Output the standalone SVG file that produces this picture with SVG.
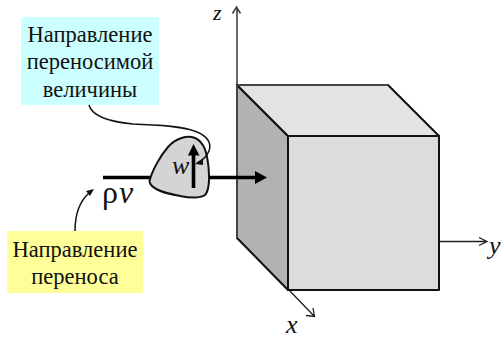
<svg xmlns="http://www.w3.org/2000/svg" width="501" height="339" viewBox="0 0 501 339">
<style>
text{font-family:"Liberation Serif","Times New Roman",serif;fill:#111}
.lbl{font-size:22.5px;text-anchor:middle}
.var{font-style:italic;font-size:26px}
.face{stroke:#111;stroke-width:2;stroke-linejoin:round}
.thin{fill:none;stroke:#222;stroke-width:1.3}
.thick{fill:none;stroke:#000;stroke-width:3.6}
.curve{fill:none;stroke:#111;stroke-width:1.5}
</style>
<rect width="501" height="339" fill="#fff"/>
<g id="connectors">
<path class="thin" d="M237 85V8M232.500 13.500L236.500 7L240.500 13.500" style="stroke:#444;stroke-width:1.6"/>
<path class="thin" d="M439 241.500H486M479 237.500L487 241.500L479 245.500"/>
<path class="thin" d="M288 289L314 316M306 315.500L314.500 316.500L313 308"/>
<path class="thick" d="M103 177.500H150"/>
</g>
<g id="cube">
<path class="face" fill="#b2b2b2" d="M237 85L288 136V290L237 238Z"/>
<path class="face" fill="#e3e3e3" d="M237 85H388L439 136H288Z"/>
<rect class="face" x="288" y="136" width="151" height="154" fill="#dcdcdc"/>
<path d="M237 85V238M237 85H388" fill="none" stroke="#444" stroke-width="2"/>
</g>
<g id="parcel">
<path fill="#d4d4d4" stroke="#111" stroke-width="2" d="M149.500 181C152 171 160 156 168 147C176 138 187 135 195 138C204 142 207 152 208.500 167C209.500 178 209.500 190 205 195C199 199 190 198 180 196C170 194 158 192 152 186C150 184 149.500 183 149.500 181Z"/>
<path class="thick" d="M193.500 188V154"/>
<path d="M188 155.500L193.500 144L199.500 155.500Z" fill="#000"/>
<text class="var" x="172" y="174">w</text>
</g>
<g id="flow-arrow">
<path class="thick" d="M209 177.500H256"/>
<path d="M255 171L267 177.500L255 184Z" fill="#000"/>
</g>
<g id="label-quantity">
<rect x="21" y="17" width="138" height="88" fill="#ccffff"/>
<text class="lbl" x="90" y="41.500">Направление</text>
<text class="lbl" x="90" y="69">переносимой</text>
<text class="lbl" x="90" y="96.500">величины</text>
</g>
<path id="quantity-leader" class="curve" d="M89 105C92 117 112 122 133 124C150 125 180 125 197 132C207 136 212 143 209 151C207 156 203 160 197 163"/>
<path id="quantity-leader-head" d="M195 164L203 158.500L203 165Z" fill="#111"/>
<g id="label-transfer">
<rect x="7" y="231" width="136" height="62" fill="#ffff99"/>
<text class="lbl" x="75" y="257">Направление</text>
<text class="lbl" x="75" y="284">переноса</text>
</g>
<path id="transfer-leader" class="curve" d="M75 231C75 216 79 202 89 193"/>
<path id="transfer-leader-head" d="M94 189L86 191L90 196Z" fill="#111"/>
<g id="axis-labels">
<text class="var" x="213" y="20" style="font-size:22px">z</text>
<text class="var" x="489" y="254">y</text>
<text class="var" x="286" y="333">x</text>
</g>
<g id="rho-v">
<text x="102" y="203" style="font-size:32px">ρ</text>
<text x="119" y="203" style="font-size:32px;font-style:italic">v</text>
</g>
</svg>
